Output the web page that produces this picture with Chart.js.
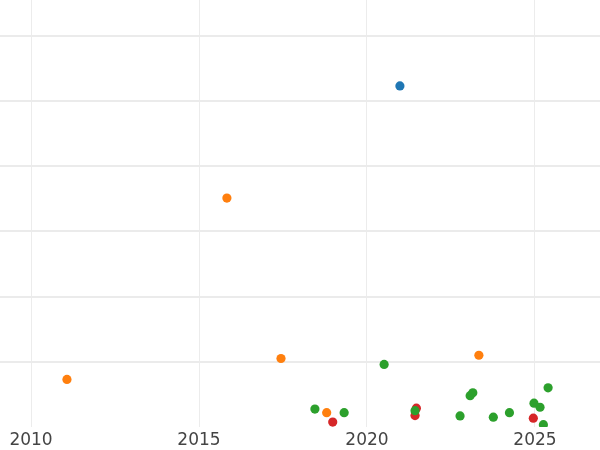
<!DOCTYPE html>
<html>
<head>
<meta charset="utf-8">
<script src="https://cdn.jsdelivr.net/npm/chart.js@4"></script>
<style>
  body { margin: 0; background: #fff; }
  canvas { display: block; }
</style>
</head>
<body>
<canvas id="myChart" width="600" height="450"></canvas>
<script>
// valorile (an, valoare)
const xTickYears = [2010, 2015, 2020, 2025];
const yGridValues = [1, 2, 3, 4, 5, 6];

const blueYears = [2020.98];
const blueVals = [5.23];

const orangeYears = [2011.07, 2015.83, 2017.44, 2018.80, 2023.33];
const orangeVals = [0.730, 3.510, 1.050, 0.220, 1.100];

const greenYears = [2018.45, 2019.32, 2020.51, 2021.43, 2022.77, 2023.07, 2023.15,
  2023.76, 2024.24, 2024.97, 2025.15, 2025.25, 2025.39];
const greenVals = [0.275, 0.220, 0.960, 0.250, 0.170, 0.480, 0.525,
  0.150, 0.220, 0.365, 0.303, 0.035, 0.600];

const redYears = [2018.98, 2021.47, 2021.43, 2024.95];
const redVals = [0.075, 0.288, 0.175, 0.135];

function toPoints(xs, ys) {
  return xs.map((x, i) => ({ x: x, y: ys[i] }));
}

function makeSet(xs, ys, color) {
  return {
    data: toPoints(xs, ys),
    backgroundColor: color,
    borderWidth: 0,
    pointRadius: 4.6,
    pointHoverRadius: 4.6,
    clip: 0
  };
}

const ctx = document.getElementById('myChart');

new Chart(ctx, {
  type: 'scatter',
  data: {
    datasets: [
      makeSet(blueYears, blueVals, '#1f77b4'),
      makeSet(orangeYears, orangeVals, '#ff7f0e'),
      makeSet(greenYears, greenVals, '#2ca02c'),
      makeSet(redYears, redVals, '#d62728')
    ]
  },
  options: {
    responsive: false,
    animation: false,
    layout: { padding: 0, autoPadding: false },
    plugins: {
      legend: { display: false },
      tooltip: { enabled: false }
    },
    scales: {
      x: {
        type: 'linear',
        min: 2009.077,
        max: 2026.935,
        afterBuildTicks: (scale) => {
          scale.ticks = xTickYears.map(v => ({ value: v }));
        },
        afterFit: (scale) => { scale.height = 23; },
        border: { display: false },
        grid: { color: '#ececec', lineWidth: 1, drawTicks: false },
        ticks: {
          padding: 3,
          color: '#444',
          font: { family: 'DejaVu Sans', size: 17 },
          maxRotation: 0,
          callback: (v) => String(v)
        }
      },
      y: {
        min: 0,
        max: 6.547,
        afterBuildTicks: (scale) => {
          scale.ticks = yGridValues.map(v => ({ value: v }));
        },
        afterFit: (scale) => { scale.width = 0; },
        border: { display: false },
        grid: { color: '#ebebeb', lineWidth: 2, drawTicks: false },
        ticks: { display: false }
      }
    }
  }
});
</script>
</body>
</html>
